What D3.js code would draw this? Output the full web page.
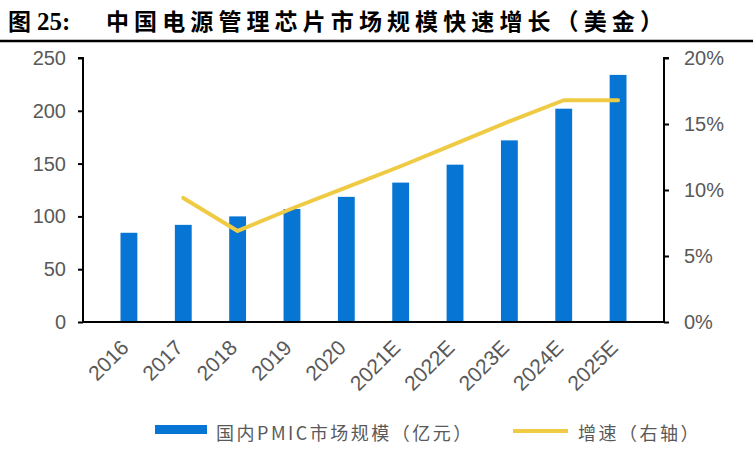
<!DOCTYPE html>
<html><head><meta charset="utf-8">
<script src="https://cdn.jsdelivr.net/npm/d3@7"></script>
<style>
body{margin:0;background:#fff;}
svg{display:block;}
</style></head>
<body>
<svg id="c" width="753" height="458"></svg>
<script>
const categories = ["2016","2017","2018","2019","2020","2021E","2022E","2023E","2024E","2025E"];
const marketSize = [84.5, 92, 100, 107, 118.5, 132, 149, 172, 202, 234];
const growth = [null, 0.094, 0.069, 0.086, 0.102, 0.118, 0.135, 0.152, 0.168, 0.168];
const leftTicks = [0, 50, 100, 150, 200, 250];
const rightTicks = [0, 0.05, 0.10, 0.15, 0.20];
const titleText = "中国电源管理芯片市场规模快速增长（美金）";
const legendBar = "国内PMIC市场规模（亿元）";
const legendLine = "增速（右轴）";

const svg = d3.select("#c");
const gray = "#595959";
const blue = "#0775D3";
const yellow = "#EFCB45";

// title
const t = svg.append("text").attr("x", 8).attr("y", 30).attr("fill", "#000");
t.append("tspan").attr("font-family", "Noto Sans CJK SC").attr("font-weight", 700).attr("font-size", 23).text("图");
t.append("tspan").attr("font-family", "Liberation Serif").attr("font-weight", 700).attr("font-size", 25).attr("dx", 6).text("25:");
t.append("tspan").attr("font-family", "Noto Sans CJK SC").attr("font-weight", 700).attr("font-size", 23)
  .attr("x", 106).attr("letter-spacing", 5.1).text(titleText);
svg.append("line").attr("x1", 0).attr("x2", 753).attr("y1", 41).attr("y2", 41).attr("stroke", "#000").attr("stroke-width", 2.5);

const x = d3.scaleBand().domain(categories).range([83, 664]).padding(0.69);
const yL = d3.scaleLinear().domain([0, 250]).range([322, 58]);
const yR = d3.scaleLinear().domain([0, 0.2]).range([322, 58]);

// bars
svg.append("g").selectAll("rect").data(categories).join("rect")
  .attr("x", d => x(d)).attr("width", x.bandwidth())
  .attr("y", (d, i) => yL(marketSize[i])).attr("height", (d, i) => yL(0) - yL(marketSize[i]))
  .attr("fill", blue);

// axes
const axL = svg.append("g").attr("transform", "translate(83,0)")
  .call(d3.axisLeft(yL).tickValues(leftTicks).tickSize(5).tickPadding(12).tickFormat(d3.format("d")));
const axR = svg.append("g").attr("transform", "translate(664,0)")
  .call(d3.axisRight(yR).tickValues(rightTicks).tickSize(5).tickPadding(15).tickFormat(d3.format(".0%")));
const axB = svg.append("g").attr("transform", "translate(0,322)")
  .call(d3.axisBottom(x).tickSize(0).tickFormat(""));
[axL, axR, axB].forEach(a => {
  a.select(".domain").attr("stroke", "#000").attr("stroke-width", 2);
  a.selectAll(".tick line").attr("stroke", "#000").attr("stroke-width", 2);
  a.selectAll("text").attr("font-family", "Liberation Sans, Arial, sans-serif").attr("font-size", 20).attr("fill", gray);
});
axB.select(".domain").attr("d", "M83,0H664");
axL.select(".domain").attr("d", "M-5,58H0V322");
axR.select(".domain").attr("d", "M5,58H0V322");

// x labels
svg.append("g").selectAll("text").data(categories).join("text")
  .attr("transform", d => `translate(${x(d) + x.bandwidth() / 2 + 1},349) rotate(-45)`)
  .attr("text-anchor", "end")
  .attr("font-family", "Liberation Sans, Arial, sans-serif").attr("font-size", 21).attr("fill", gray)
  .text(d => d);

// line
const lineData = categories.map((c, i) => ({c, v: growth[i]})).filter(d => d.v != null);
svg.append("path").datum(lineData)
  .attr("fill", "none").attr("stroke", yellow).attr("stroke-width", 4).attr("stroke-linecap", "round").attr("stroke-linejoin", "round")
  .attr("d", d3.line().x(d => x(d.c) + x.bandwidth() / 2).y(d => yR(d.v)));

// legend
svg.append("rect").attr("x", 155).attr("y", 425).attr("width", 52).attr("height", 9).attr("fill", blue);
svg.append("text").attr("x", 216).attr("y", 440).attr("font-family", "Noto Sans CJK SC, Liberation Sans, sans-serif")
  .attr("font-size", 18).attr("letter-spacing", 2.5).attr("fill", gray).text(legendBar);
svg.append("line").attr("x1", 513).attr("x2", 568).attr("y1", 431).attr("y2", 431).attr("stroke", yellow).attr("stroke-width", 4);
svg.append("text").attr("x", 578).attr("y", 440).attr("font-family", "Noto Sans CJK SC, Liberation Sans, sans-serif")
  .attr("font-size", 18).attr("letter-spacing", 2.5).attr("fill", gray).text(legendLine);
</script>
</body></html>
